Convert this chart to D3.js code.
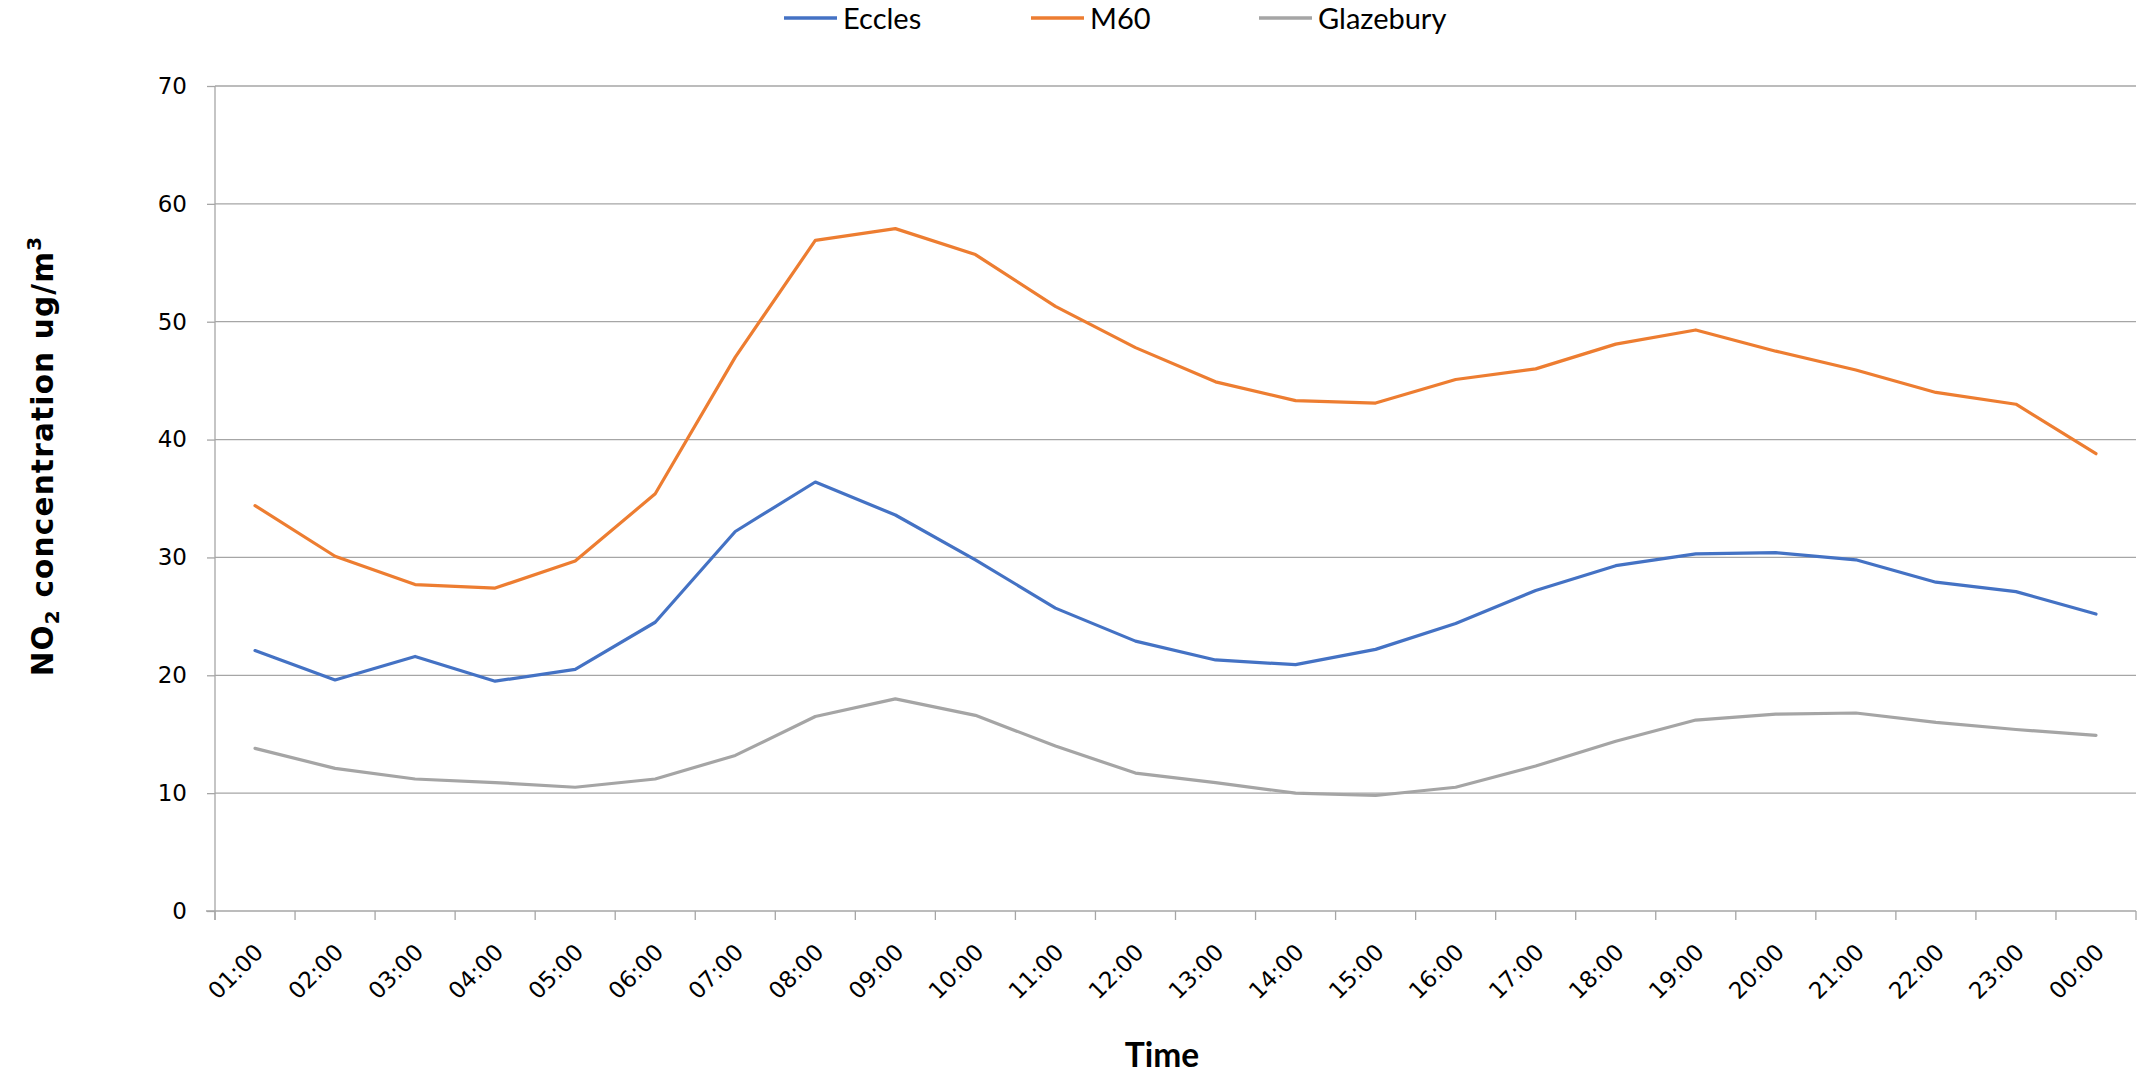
<!DOCTYPE html>
<html>
<head>
<meta charset="utf-8">
<script src="https://cdn.jsdelivr.net/npm/d3@7"></script>
<style>
  html, body { margin: 0; padding: 0; background: #fff; }
  svg { display: block; }
</style>
</head>
<body>
<svg id="chart" width="2139" height="1076"></svg>
<script>
const times = ["01:00","02:00","03:00","04:00","05:00","06:00","07:00","08:00","09:00","10:00","11:00","12:00",
               "13:00","14:00","15:00","16:00","17:00","18:00","19:00","20:00","21:00","22:00","23:00","00:00"];
const eccles    = [22.1,19.6,21.6,19.5,20.5,24.5,32.2,36.4,33.6,29.8,25.7,22.9,21.3,20.9,22.2,24.4,27.2,29.3,30.3,30.4,29.8,27.9,27.1,25.2];
const m60       = [34.4,30.1,27.7,27.4,29.7,35.4,47.0,56.9,57.9,55.7,51.3,47.8,44.9,43.3,43.1,45.1,46.0,48.1,49.3,47.5,45.9,44.0,43.0,38.8];
const glazebury = [13.8,12.1,11.2,10.9,10.5,11.2,13.2,16.5,18.0,16.6,14.0,11.7,10.9,10.0,9.8,10.5,12.3,14.4,16.2,16.7,16.8,16.0,15.4,14.9];
const seriesNames = ["Eccles","M60","Glazebury"];
const seriesColors = ["#4472C4","#ED7D31","#A5A5A5"];
const yTicks = [0,10,20,30,40,50,60,70];

const series = [eccles, m60, glazebury];
const svg = d3.select("#chart");
const x = d3.scaleBand().domain(times).range([215, 2136]);
const y = d3.scaleLinear().domain([0, 70]).range([911, 86]);
const axisColor = "#A6A6A6";
const tickFont = "'DejaVu Sans', Verdana, sans-serif";
const titleFont = "Lato, 'Open Sans', sans-serif";

// gridlines
svg.append("g").selectAll("line").data(yTicks.filter(d => d > 0)).join("line")
  .attr("x1", x.range()[0]).attr("x2", x.range()[1])
  .attr("y1", d => y(d)).attr("y2", d => y(d))
  .attr("stroke", axisColor).attr("stroke-width", 1.3);

// y axis
const yAxis = svg.append("g").attr("transform", `translate(${x.range()[0]},0)`)
  .call(d3.axisLeft(y).tickValues(yTicks).tickSize(8).tickPadding(20));
yAxis.select(".domain").attr("stroke", axisColor).attr("stroke-width", 1.3)
  .attr("d", `M0,${y(0)+9}V${y(70)}`);
yAxis.selectAll(".tick line").attr("stroke", axisColor).attr("stroke-width", 1.3);
yAxis.selectAll(".tick text").attr("font-family", tickFont).attr("font-size", 23).attr("fill", "#000");

// x axis
const xAxis = svg.append("g").attr("transform", `translate(0,${y(0)})`)
  .call(d3.axisBottom(x).tickSize(0).tickPadding(0));
xAxis.select(".domain").attr("stroke", axisColor).attr("stroke-width", 1.3)
  .attr("d", `M${x.range()[0]-9},0H${x.range()[1]}`);
xAxis.selectAll(".tick text")
  .attr("font-family", tickFont).attr("font-size", 23).attr("fill", "#000")
  .attr("text-anchor", "end").attr("dy", "0.35em")
  .attr("transform", "translate(4,37) rotate(-45)");
const bounds = times.map(t => x(t)).concat([x.range()[1]]);
svg.append("g").selectAll("line").data(bounds).join("line")
  .attr("x1", d => d).attr("x2", d => d)
  .attr("y1", y(0)).attr("y2", y(0) + 9)
  .attr("stroke", axisColor).attr("stroke-width", 1.3);

// lines
const line = d3.line().x((d, i) => x(times[i]) + x.bandwidth() / 2).y(d => y(d));
svg.append("g").selectAll("path").data(series).join("path")
  .attr("d", d => line(d))
  .attr("fill", "none")
  .attr("stroke", (d, i) => seriesColors[i])
  .attr("stroke-width", 3.2)
  .attr("stroke-linejoin", "round")
  .attr("stroke-linecap", "round");

// legend
const legendX = [784, 1031, 1259];
const lg = svg.append("g").selectAll("g").data(seriesNames).join("g")
  .attr("transform", (d, i) => `translate(${legendX[i]},18)`);
lg.append("line").attr("x1", 0).attr("x2", 53).attr("y1", 0).attr("y2", 0)
  .attr("stroke", (d, i) => seriesColors[i]).attr("stroke-width", 3.5);
lg.append("text").attr("x", 59).attr("y", 11)
  .attr("font-family", titleFont).attr("font-size", 29).attr("fill", "#000")
  .text(d => d);

// axis titles
svg.append("text")
  .attr("x", 1162).attr("y", 1067)
  .attr("text-anchor", "middle")
  .attr("font-family", titleFont).attr("font-size", 33.5).attr("font-weight", "bold").attr("fill", "#000")
  .text("Time");

const yt = svg.append("text")
  .attr("transform", "translate(53,456) rotate(-90)")
  .attr("text-anchor", "middle")
  .attr("font-family", "'DejaVu Sans', sans-serif").attr("font-size", 29.5).attr("font-weight", "bold")
  .attr("letter-spacing", 1.2).attr("fill", "#000");
yt.append("tspan").text("NO");
yt.append("tspan").attr("font-size", 20).attr("dy", 6).text("2");
yt.append("tspan").attr("dy", -6).text(" concentration ug/m");
yt.append("tspan").attr("font-size", 20).attr("dy", -12).text("3");
</script>
</body>
</html>
